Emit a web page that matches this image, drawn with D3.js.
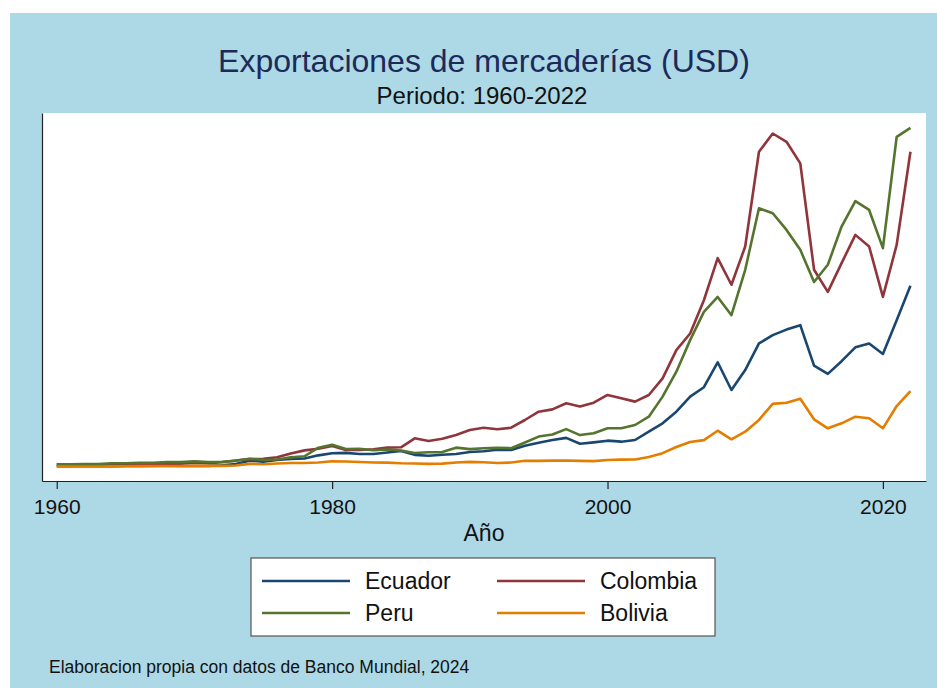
<!DOCTYPE html>
<html>
<head>
<meta charset="utf-8">
<script src="https://cdn.jsdelivr.net/npm/d3@7"></script>
<style>
  body { margin: 0; background: #fff; }
  svg { display: block; font-family: "Liberation Sans", Arial, Helvetica, sans-serif; }
</style>
</head>
<body>
<div id="chart"></div>
<script>
// years 1960-2022, exports in billions of USD
const years = d3.range(1960, 2023);

const ecuador = [
  0.146, 0.127, 0.143, 0.150, 0.155, 0.180, 0.186, 0.200, 0.210, 0.183,
  0.190, 0.199, 0.326, 0.532, 1.12, 0.97, 1.26, 1.44, 1.53, 2.10,
  2.48, 2.54, 2.34, 2.35, 2.62, 2.90, 2.19, 2.02, 2.20, 2.35,
  2.71, 2.85, 3.10, 3.06, 3.82, 4.38, 4.87, 5.26, 4.20, 4.45,
  4.75, 4.57, 4.87, 6.38, 7.88, 9.98, 12.7, 14.4, 18.9, 13.9,
  17.5, 22.3, 23.8, 24.8, 25.6, 18.3, 16.8, 19.1, 21.6, 22.3,
  20.4, 26.5, 32.7
];
const colombia = [
  0.465, 0.435, 0.463, 0.446, 0.548, 0.539, 0.510, 0.510, 0.558, 0.607,
  0.788, 0.690, 0.866, 1.18, 1.42, 1.47, 1.75, 2.44, 3.0, 3.3,
  3.8, 3.07, 3.07, 3.19, 3.49, 3.55, 5.18, 4.69, 5.1, 5.78,
  6.68, 7.09, 6.8, 7.09, 8.48, 9.98, 10.4, 11.5, 10.9, 11.6,
  13.0, 12.4, 11.8, 13.0, 16.0, 21.1, 24.1, 30.1, 37.7, 32.9,
  39.8, 56.9, 60.2, 58.7, 54.8, 35.6, 31.6, 36.8, 41.9, 39.8,
  30.7, 40.1, 56.9
];
const peru = [
  0.43, 0.50, 0.54, 0.54, 0.67, 0.67, 0.76, 0.76, 0.87, 0.88,
  1.03, 0.89, 0.94, 1.11, 1.50, 1.29, 1.36, 1.73, 1.94, 3.49,
  4.0, 3.25, 3.29, 3.02, 3.15, 2.98, 2.53, 2.66, 2.69, 3.49,
  3.23, 3.39, 3.48, 3.39, 4.42, 5.49, 5.88, 6.83, 5.76, 6.09,
  6.98, 6.98, 7.58, 9.08, 12.7, 17.2, 22.9, 28.0, 30.7, 27.4,
  35.6, 46.7, 45.8, 42.8, 39.2, 33.4, 36.5, 43.4, 48.0, 46.4,
  39.5, 59.6, 61.2
];
const bolivia = [
  0.068, 0.076, 0.076, 0.086, 0.113, 0.131, 0.150, 0.166, 0.160, 0.179,
  0.226, 0.192, 0.204, 0.262, 0.566, 0.506, 0.636, 0.714, 0.727, 0.815,
  1.04, 0.99, 0.90, 0.82, 0.78, 0.67, 0.64, 0.57, 0.60, 0.82,
  0.93, 0.85, 0.71, 0.80, 1.12, 1.10, 1.14, 1.17, 1.10, 1.05,
  1.26, 1.33, 1.35, 1.8, 2.5, 3.6, 4.5, 4.85, 6.55, 5.0,
  6.38, 8.5, 11.4, 11.6, 12.3, 8.6, 6.98, 7.88, 9.08, 8.79,
  6.98, 11.0, 13.7
];

const seriesNames = ["Ecuador", "Colombia", "Peru", "Bolivia"];
const seriesValues = [ecuador, colombia, peru, bolivia];
const seriesColors = ["#1a476f", "#90353b", "#55752f", "#e37e00"];
const xTicks = [1960, 1980, 2000, 2020];

const title = "Exportaciones de mercaderías (USD)";
const subtitle = "Periodo: 1960-2022";
const xLabel = "Año";
const note = "Elaboracion propia con datos de Banco Mundial, 2024";

const width = 937, height = 688;
const plotLeft = 42, plotRight = 926, plotTop = 113, plotBottom = 481;

const svg = d3.select("#chart").append("svg")
  .attr("width", width)
  .attr("height", height)
  .attr("viewBox", [0, 0, width, height]);

// graph background
svg.append("rect")
  .attr("x", 10).attr("y", 13)
  .attr("width", width - 10).attr("height", height - 13)
  .attr("fill", "#add8e6");

// plot region
svg.append("rect")
  .attr("x", plotLeft).attr("y", plotTop)
  .attr("width", plotRight - plotLeft).attr("height", plotBottom - plotTop)
  .attr("fill", "#fff");

const x = d3.scaleLinear().domain([1958.93, 2023.13]).range([plotLeft, plotRight]);
const y = d3.scaleLinear().domain([-2.53, 63.9]).range([plotBottom, plotTop]);

// x-axis
svg.append("g")
  .attr("transform", `translate(0,${plotBottom})`)
  .call(d3.axisBottom(x).tickValues(xTicks).tickFormat(d3.format("d")).tickSize(8).tickSizeOuter(0))
  .call((g) => g.select(".domain").attr("stroke", "#222").attr("stroke-width", 1.2))
  .call((g) => g.selectAll(".tick line").attr("stroke", "#222").attr("stroke-width", 1.2))
  .call((g) => g.selectAll(".tick text")
    .attr("font-size", 21)
    .attr("font-family", "Liberation Sans, Arial, sans-serif")
    .attr("fill", "#111")
    .attr("dy", "1.05em"));

// y-axis (line only)
svg.append("g")
  .attr("transform", `translate(${plotLeft},0)`)
  .call(d3.axisLeft(y).tickValues([]).tickSizeOuter(0))
  .call((g) => g.select(".domain").attr("stroke", "#222").attr("stroke-width", 1.2));

// lines
const line = d3.line()
  .x((d, i) => x(years[i]))
  .y((d) => y(d));

svg.append("g")
  .attr("fill", "none")
  .attr("stroke-width", 2.6)
  .attr("stroke-linejoin", "round")
  .selectAll("path")
  .data(seriesValues)
  .join("path")
  .attr("stroke", (d, i) => seriesColors[i])
  .attr("d", line);

// titles
svg.append("text")
  .attr("x", 484).attr("y", 72)
  .attr("text-anchor", "middle")
  .attr("font-size", 32)
  .attr("fill", "#1c2a5a")
  .text(title);

svg.append("text")
  .attr("x", 482).attr("y", 104)
  .attr("text-anchor", "middle")
  .attr("font-size", 24)
  .attr("fill", "#111")
  .text(subtitle);

svg.append("text")
  .attr("x", 484).attr("y", 541)
  .attr("text-anchor", "middle")
  .attr("font-size", 23)
  .attr("fill", "#111")
  .text(xLabel);

// legend
const legend = svg.append("g");
legend.append("rect")
  .attr("x", 251).attr("y", 558)
  .attr("width", 464).attr("height", 78)
  .attr("fill", "#fff")
  .attr("stroke", "#555")
  .attr("stroke-width", 1.2);

seriesNames.forEach((name, i) => {
  const col = i % 2, row = Math.floor(i / 2);
  const lx = 262 + col * 235, ly = 581 + row * 32;
  legend.append("line")
    .attr("x1", lx).attr("x2", lx + 88)
    .attr("y1", ly).attr("y2", ly)
    .attr("stroke", seriesColors[i])
    .attr("stroke-width", 2.6);
  legend.append("text")
    .attr("x", lx + 103).attr("y", ly + 8)
    .attr("font-size", 23)
    .attr("fill", "#111")
    .text(name);
});

// note
svg.append("text")
  .attr("x", 49).attr("y", 673)
  .attr("font-size", 17.5)
  .attr("fill", "#111")
  .text(note);
</script>
</body>
</html>
